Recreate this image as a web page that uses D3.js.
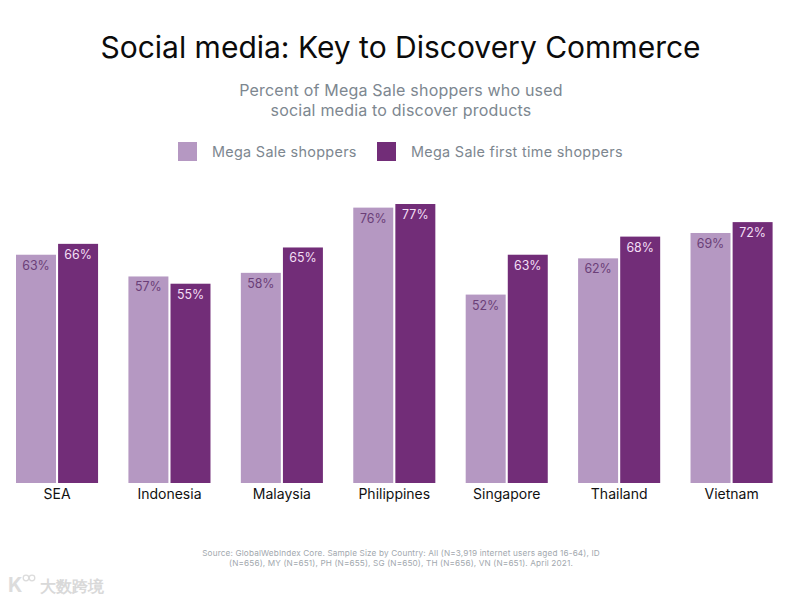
<!DOCTYPE html>
<html>
<head>
<meta charset="utf-8">
<script src="https://cdn.jsdelivr.net/npm/d3@7"></script>
<style>
  html, body { margin: 0; padding: 0; background: #fff; }
  svg { display: block; }
  text { font-family: Inter, sans-serif; }
</style>
</head>
<body>
<svg id="chart" width="788" height="600"></svg>
<script>
// Values
const categories = ["SEA", "Indonesia", "Malaysia", "Philippines", "Singapore", "Thailand", "Vietnam"];
const megaSale = [63, 57, 58, 76, 52, 62, 69];
const firstTime = [66, 55, 65, 77, 63, 68, 72];
const seriesNames = ["Mega Sale shoppers", "Mega Sale first time shoppers"];
const seriesColors = ["#b598c2", "#722d78"];
const labelColors = ["#6b3f78", "#f3dff5"];
const subtitleLines = ["Percent of Mega Sale shoppers who used", "social media to discover products"];
const sourceLines = [
  "Source: GlobalWebIndex Core. Sample Size by Country: All (N=3,919 internet users aged 16-64), ID",
  "(N=656), MY (N=651), PH (N=655), SG (N=650), TH (N=656), VN (N=651). April 2021."
];

const svg = d3.select("#chart");

const baseline = 483;
const x0 = d3.scaleBand().domain(categories).range([16, 772.6]).paddingInner(0.27);
const x1 = d3.scaleBand().domain([0, 1]).range([0, x0.bandwidth()]).paddingInner(0.05);
const y = d3.scaleLinear().domain([0, 77]).range([baseline, 204]);

// Title block
svg.append("text")
  .attr("x", 400.5).attr("y", 58)
  .attr("text-anchor", "middle")
  .attr("font-size", 30)
  .attr("fill", "#0b0b0b")
  .text("Social media: Key to Discovery Commerce");

svg.selectAll(".subtitle").data(subtitleLines).join("text")
  .attr("class", "subtitle")
  .attr("x", 401)
  .attr("y", (d, i) => 96 + i * 20)
  .attr("text-anchor", "middle")
  .attr("font-size", 16)
  .attr("letter-spacing", 0.2)
  .attr("fill", "#7d8790")
  .text(d => d);

// Legend
const legendX = [178, 377];
const legend = svg.selectAll(".legend").data(seriesNames).join("g")
  .attr("class", "legend")
  .attr("transform", (d, i) => `translate(${legendX[i]},142)`);
legend.append("rect")
  .attr("width", 19).attr("height", 19)
  .attr("fill", (d, i) => seriesColors[i]);
legend.append("text")
  .attr("x", 34).attr("y", 15)
  .attr("font-size", 14.4)
  .attr("letter-spacing", 0.3)
  .attr("fill", "#7d8790")
  .text(d => d);

// Bars and their labels
const groups = svg.selectAll(".group").data(categories).join("g")
  .attr("class", "group")
  .attr("transform", d => `translate(${x0(d)},0)`);

[megaSale, firstTime].forEach((values, s) => {
  groups.append("rect")
    .attr("x", x1(s))
    .attr("y", (d, i) => y(values[i]))
    .attr("width", x1.bandwidth())
    .attr("height", (d, i) => baseline - y(values[i]))
    .attr("fill", seriesColors[s]);
  groups.append("text")
    .attr("x", x1(s) + x1.bandwidth() / 2)
    .attr("y", (d, i) => y(values[i]) + 15)
    .attr("text-anchor", "middle")
    .attr("font-size", 12.4)
    .attr("fill", labelColors[s])
    .text((d, i) => values[i] + "%");
});

// Category axis
const axis = svg.append("g")
  .attr("transform", `translate(0,${baseline})`)
  .call(d3.axisBottom(x0).tickSize(0).tickPadding(6));
axis.select(".domain").remove();
axis.selectAll("text")
  .attr("font-family", "Inter, sans-serif")
  .attr("font-size", 14)
  .attr("fill", "#111");

// Source note, one text with two lines
svg.append("text")
  .attr("font-size", 8.2)
  .attr("letter-spacing", 0.15)
  .attr("fill", "#a2a8ae")
  .attr("text-anchor", "middle")
  .selectAll("tspan").data(sourceLines).join("tspan")
  .attr("x", 401)
  .attr("y", (d, i) => 555.5 + i * 10)
  .text(d => d);

// Watermark
svg.append("text")
  .attr("x", 40).attr("y", 592)
  .attr("font-family", '"Noto Sans CJK SC"')
  .attr("font-size", 15.8)
  .attr("font-weight", 700)
  .attr("fill", "#d9d9d9")
  .text("大数跨境");
svg.append("text")
  .attr("x", 8).attr("y", 592)
  .attr("font-size", 20)
  .attr("font-weight", 700)
  .attr("fill", "#dcdcdc")
  .text("K");
svg.selectAll(".wm").data([26, 32]).join("circle")
  .attr("class", "wm")
  .attr("cx", d => d).attr("cy", 578).attr("r", 2.8)
  .attr("fill", "none").attr("stroke", "#dcdcdc").attr("stroke-width", 1.3);
</script>
</body>
</html>
